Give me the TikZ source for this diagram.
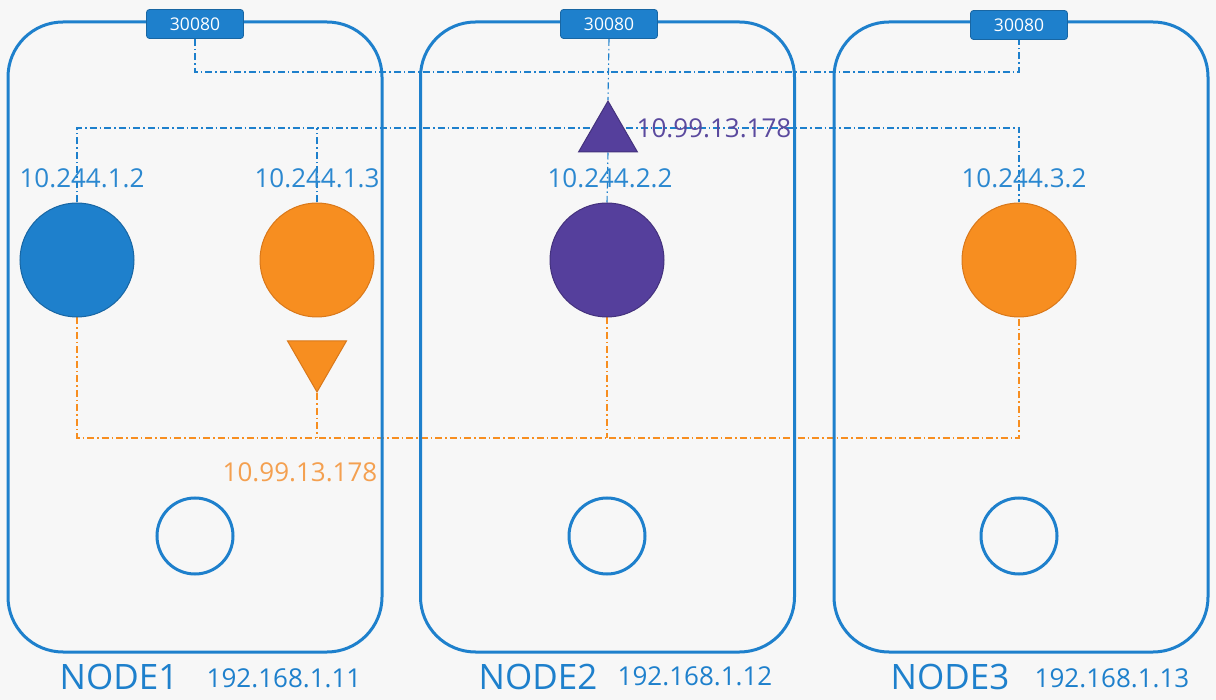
\documentclass[tikz,border=0pt]{standalone}
\usepackage{fontspec}
\setmainfont{Open Sans}
\usetikzlibrary{shapes.geometric,backgrounds}
\definecolor{kblue}{HTML}{1E80CC}
\definecolor{kbluetext}{HTML}{2B88D0}
\definecolor{korange}{HTML}{F78E20}
\definecolor{korangedark}{HTML}{D9781A}
\definecolor{korangetext}{HTML}{F4A050}
\definecolor{kpurple}{HTML}{553F9C}
\definecolor{kpurpletext}{HTML}{5B4A9E}
\definecolor{kbg}{HTML}{F7F7F7}
\tikzset{
  hostbox/.style={draw=kblue, line width=3pt, rounded corners=55pt, minimum width=374pt, minimum height=630pt},
  port/.style={fill=kblue, draw=kblue!80!black, line width=0.8pt, rounded corners=3pt, minimum width=97pt, minimum height=29pt, inner sep=0pt, text=white, font=\fontsize{17.5}{19}\selectfont},
  pod/.style={circle, minimum size=114pt, inner sep=0pt, line width=1pt},
  svc/.style={regular polygon, regular polygon sides=3, minimum size=68pt, inner sep=0pt, line width=1pt},
  proxy/.style={circle, draw=kblue, line width=3pt, minimum size=76pt, inner sep=0pt},
  iplabel/.style={text=kbluetext, font=\fontsize{26}{30}\selectfont, inner sep=0pt},
  hostname/.style={text=kblue, font=\fontsize{35}{40}\selectfont, inner sep=0pt},
  hostip/.style={text=kblue, font=\fontsize{26}{30}\selectfont, inner sep=0pt},
  blink/.style={draw=kblue, line width=1.1pt, dash pattern=on 7pt off 3pt on 1.5pt off 3pt},
  olink/.style={draw=korange, line width=1.1pt, dash pattern=on 7pt off 3pt on 1.5pt off 3pt},
}
\begin{document}
\begin{tikzpicture}[x=1pt,y=-1pt]
\useasboundingbox (0,0) rectangle (1216,700);
% host boxes
\node[hostbox] (n1) at (195,337) {};
\node[hostbox] (n2) at (607.5,337) {};
\node[hostbox] (n3) at (1021,337) {};
% ports
\node[port] (p1) at (195,24) {30080};
\node[port] (p2) at (609,24) {30080};
\node[port] (p3) at (1019,25) {30080};
% pods
\node[pod, fill=kblue, draw=kblue!80!black] (c1) at (77,260) {};
\node[pod, fill=korange, draw=korangedark] (c2) at (317,260) {};
\node[pod, fill=kpurple, draw=kpurple!80!black] (c3) at (607,260) {};
\node[pod, fill=korange, draw=korangedark] (c4) at (1019,260) {};
% services
\node[svc, fill=kpurple, draw=kpurple!80!black] (s2) at (608,135) {};
\node[svc, shape border rotate=180, fill=korange, draw=korangedark] (s1) at (317,358) {};
% proxies
\node[proxy] (k1) at (195,536) {};
\node[proxy] (k2) at (607,536) {};
\node[proxy] (k3) at (1019,536) {};
% bus coordinates
\coordinate (bus1) at (607,72);
\coordinate (bus2) at (607,128);
\coordinate (bus3) at (607,438);
\begin{scope}[on background layer]
\fill[kbg] (0,0) rectangle (1216,700);
\draw[blink] (p1.south) |- (bus1) -| (p3.south);
\draw[blink] (p2.south) -- (s2.north);
\draw[blink] (c1.north) |- (bus2) -| (c4.north);
\draw[blink] (c2.north) -- (c2.north |- bus2);
\draw[blink] (s2.south) -- (c3.north);
\draw[olink] (c1.south) |- (bus3) -| (c4.south);
\draw[olink] (s1.south) -- (s1.south |- bus3);
\draw[olink] (c3.south) -- (c3.south |- bus3);
\end{scope}
% labels
\node[iplabel] (l1) at (82,178) {10.244.1.2};
\node[iplabel] (l2) at (317,178) {10.244.1.3};
\node[iplabel] (l3) at (610,178) {10.244.2.2};
\node[iplabel] (l4) at (1024,178) {10.244.3.2};
\node[iplabel, text=kpurpletext] (sl2) at (714,128) {10.99.13.178};
\node[iplabel, text=korangetext] (sl1) at (300,472) {10.99.13.178};
\node[hostname] (h1) at (119,677) {NODE1};
\node[hostip] (i1) at (284,678) {192.168.1.11};
\node[hostname] (h2) at (538,677) {NODE2};
\node[hostip] (i2) at (695,676) {192.168.1.12};
\node[hostname] (h3) at (950,677) {NODE3};
\node[hostip] (i3) at (1112,678) {192.168.1.13};
\end{tikzpicture}
\end{document}
